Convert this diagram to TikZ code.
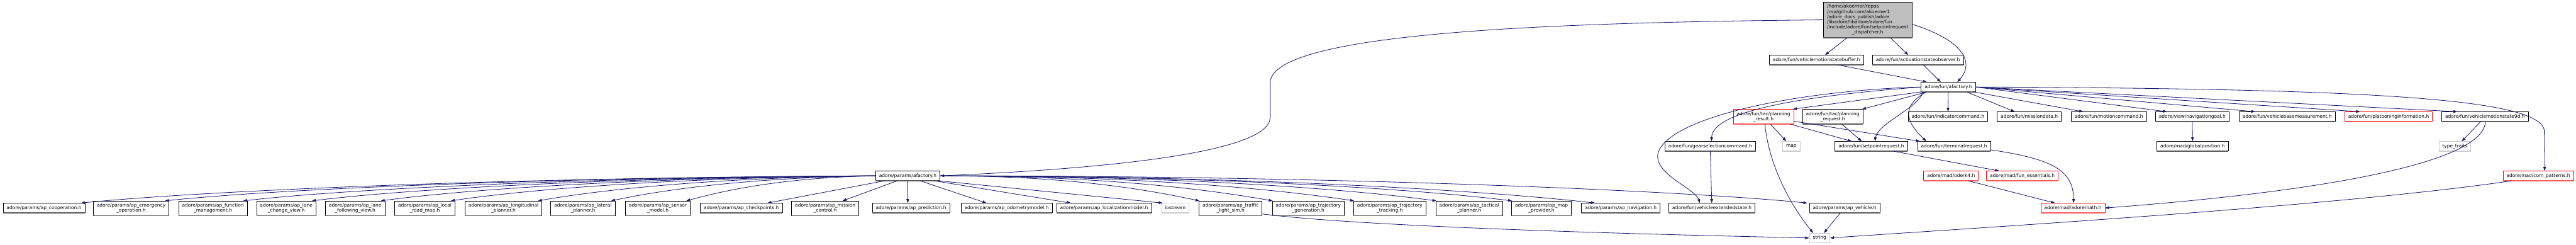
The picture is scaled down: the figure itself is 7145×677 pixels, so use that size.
\documentclass[tikz,border=0pt]{standalone}
\usepackage{fontspec}
\setmainfont{DejaVu Sans}
\usetikzlibrary{arrows.meta,calc}
\definecolor{edgec}{RGB}{25,25,112}
\definecolor{redb}{RGB}{255,0,0}

\begin{document}
\begin{tikzpicture}[x=0.25pt,y=-0.25pt,>={Triangle[length=2.75pt,width=1.9pt]},
  box/.style={draw=black,line width=.33pt,fill=white,inner xsep=2.4pt,inner ysep=0pt,align=center,anchor=west,
    font=\fontsize{3.25}{3.5}\selectfont,minimum height=6.5pt,
    append after command={(\tikzlastnode.south west) edge[line width=.7pt,draw=black!65] (\tikzlastnode.south east)}},
  redbox/.style={box,draw=redb,append after command={(\tikzlastnode.south west) edge[line width=.7pt,draw=redb!65] (\tikzlastnode.south east)}},
  sysbox/.style={box,draw=black!20,append after command={(\tikzlastnode.south west) edge[line width=.7pt,draw=black!20] (\tikzlastnode.south east)}},
  topbox/.style={box,fill=black!25},
  two/.style={minimum height=10pt},
  dep/.style={->,draw=edgec,line width=.36pt}]
\useasboundingbox (0,0) rectangle (7145,677);
% top and upper rows
\node[topbox,minimum width=61.25pt,minimum height=24.5pt] (top) at (5057,55) {\begin{tabular}{@{}l@{}}/home/akoerner/repos\\/csa/github.com/akoerner1\\/adore\_docs\_publish/adore\\/libadore/libadore/adore/fun\\/include/adore/fun/setpointrequest\\\multicolumn{1}{@{}c@{}}{\_dispatcher.h}\end{tabular}};
\node[box] (vmsbuf) at (4907,166) {adore/fun/vehiclemotionstatebuffer.h};
\node[box] (actobs) at (5193,166) {adore/fun/activationstateobserver.h};
\node[box] (hub) at (5328,241) {adore/fun/afactory.h};
% third row
\node[redbox,two] (presult) at (4807,323) {adore/fun/tac/planning\\\_result.h};
\node[box,two] (prequest) at (4999,323) {adore/fun/tac/planning\\\_request.h};
\node[box] (indic) at (5292,323) {adore/fun/indicatorcommand.h};
\node[box] (mission) at (5539,323) {adore/fun/missiondata.h};
\node[box] (motion) at (5744,323) {adore/fun/motioncommand.h};
\node[box] (navgoal) at (5978,323) {adore/view/navigationgoal.h};
\node[box] (vbase) at (6210,323) {adore/fun/vehiclebasemeasurement.h};
\node[redbox] (platoon) at (6503,323) {adore/fun/platooningInformation.h};
\node[box] (vms) at (6772,323) {adore/fun/vehiclemotionstate9d.h};
% fourth row
\node[box] (gear) at (4617,405) {adore/fun/gearselectioncommand.h};
\node[sysbox] (map) at (4944,405) {map};
\node[box] (setpreq) at (5089,405) {adore/fun/setpointrequest.h};
\node[box] (termreq) at (5318,405) {adore/fun/terminalrequest.h};
\node[box] (gpos) at (5982,405) {adore/mad/globalposition.h};
\node[sysbox] (ttraits) at (6764,405) {type\_traits};
% fifth row
\node[box] (pfac) at (2428,487) {adore/params/afactory.h};
\node[redbox] (oderk) at (5335,487) {adore/mad/oderk4.h};
\node[redbox] (funess) at (5509,487) {adore/mad/fun\_essentials.h};
\node[redbox] (compat) at (6942,487) {adore/mad/com\_patterns.h};
% sixth row
\node[redbox] (amath) at (5660,576) {adore/mad/adoremath.h};
\node[box] (coop) at (8,576) {adore/params/ap\_cooperation.h};
\node[box,two] (emerg) at (258,577) {adore/params/ap\_emergency\\\_operation.h};
\node[box,two] (funcm) at (495,577) {adore/params/ap\_function\\\_management.h};
\node[box,two] (lanech) at (711,577) {adore/params/ap\_lane\\\_change\_view.h};
\node[box,two] (lanef) at (902,577) {adore/params/ap\_lane\\\_following\_view.h};
\node[box,two] (locrm) at (1094,577) {adore/params/ap\_local\\\_road\_map.h};
\node[box,two] (longp) at (1289,577) {adore/params/ap\_longitudinal\\\_planner.h};
\node[box,two] (latp) at (1527,577) {adore/params/ap\_lateral\\\_planner.h};
\node[box,two] (sensm) at (1734,577) {adore/params/ap\_sensor\\\_model.h};
\node[box] (chkp) at (1942,576) {adore/params/ap\_checkpoints.h};
\node[box,two] (missc) at (2195,577) {adore/params/ap\_mission\\\_control.h};
\node[box] (pred) at (2419,576) {adore/params/ap\_prediction.h};
\node[box] (odom) at (2665,576) {adore/params/ap\_odometrymodel.h};
\node[box] (aploc) at (2930,576) {adore/params/ap\_localizationmodel.h};
\node[sysbox] (iostr) at (3221,576) {iostream};
\node[box,two] (aptls) at (3325,577) {adore/params/ap\_traffic\\\_light\_sim.h};
\node[box,two] (aptrg) at (3528,577) {adore/params/ap\_trajectory\\\_generation.h};
\node[box,two] (aptrt) at (3754,577) {adore/params/ap\_trajectory\\\_tracking.h};
\node[box,two] (aptac) at (3982,577) {adore/params/ap\_tactical\\\_planner.h};
\node[box,two] (apmap) at (4192,577) {adore/params/ap\_map\\\_provider.h};
\node[box] (apnav) at (4386,576) {adore/params/ap\_navigation.h};
\node[box] (vext) at (4628,576) {adore/fun/vehicleextendedstate.h};
\node[box] (apveh) at (5018,576) {adore/params/ap\_vehicle.h};
% last row
\node[sysbox] (str) at (5018,659) {string};
% edges from the file itself
\draw[dep] (top.west) .. controls (4300,62) and (3523,90) .. (3523,230) -- (3523,325) .. controls (3523,430) and (3000,470) .. (pfac.east);
\draw[dep] ($(top.south west)+(66,0)$) -- ($(vmsbuf.north)+(24,0)$);
\draw[dep] ($(top.south east)+(-60,0)$) -- ($(actobs.north)+(-27,0)$);
\draw[dep] ($(top.east)+(0,12)$) .. controls (5440,110) and (5480,170) .. ($(hub.north)+(25,0)$);
\draw[dep] ($(vmsbuf.south)+(59,0)$) -- ($(hub.north west)+(17,0)$);
\draw[dep] ($(actobs.south)+(15,0)$) -- ($(hub.north west)+(55,0)$);
% edges from adore/fun/afactory.h
\draw[dep] (hub.south west) -- ($(presult.north east)+(-3,0)$);
\draw[dep] ($(hub.south west)+(17,0)$) -- ($(prequest.north east)+(-3,0)$);
\draw[dep] (hub) -- (indic);
\draw[dep] ($(hub.south east)+(-25,0)$) -- ($(mission.north west)+(49,0)$);
\draw[dep] ($(hub.south east)+(-5,0)$) -- ($(motion.north west)+(34,0)$);
\draw[dep] (hub.east) -- ($(navgoal.north west)+(32,0)$);
\draw[dep] (hub.east) -- ($(vbase.north west)+(45,0)$);
\draw[dep] (hub.east) -- ($(platoon.north west)+(43,0)$);
\draw[dep] (hub.east) -- ($(vms.north west)+(44,0)$);
\draw[dep] (hub.east) .. controls (6600,245) and (7040,275) .. (7057,360) -- ($(compat.north west)+(116,0)$);
\draw[dep] (hub.west) .. controls (5050,262) and (4750,300) .. ($(gear.north west)+(130,0)$);
\draw[dep] (hub.west) .. controls (5000,250) and (4640,320) .. (4600,420) .. controls (4580,480) and (4700,520) .. ($(vext.north west)+(87,0)$);
\draw[dep] ($(hub.south west)+(6,0)$) .. controls (5320,300) and (5210,340) .. ($(setpreq.north west)+(111,0)$);
\draw[dep] ($(hub.south west)+(15,0)$) .. controls (5260,300) and (5300,350) .. ($(termreq.north west)+(25,0)$);
% further includes
\draw[dep] ($(presult.south)+(19,0)$) -- ($(map.north)+(-14,0)$);
\draw[dep] ($(presult.south east)+(-10,0)$) -- ($(setpreq.north west)+(47,0)$);
\draw[dep] ($(presult.south east)+(0,-8)$) -- ($(termreq.north west)+(7,0)$);
\draw[dep] ($(presult.south)+(4,0)$) .. controls (4905,450) and (4960,560) .. ($(str.north west)+(11,0)$);
\draw[dep] ($(prequest.south)+(25,0)$) -- ($(setpreq.north west)+(75,0)$);
\draw[dep] (navgoal) -- (gpos);
\draw[dep] ($(vms.south)+(-12,0)$) -- ($(ttraits.north)+(19,0)$);
\draw[dep] ($(vms.south)+(1,0)$) .. controls (6890,450) and (6450,530) .. (amath.east);
\draw[dep] ($(termreq.east)+(0,10)$) .. controls (5690,440) and (5751,470) .. ($(amath.north)+(2,0)$);
\draw[dep] ($(oderk.south east)+(-29,0)$) -- ($(amath.north west)+(40,0)$);
\draw[dep] ($(setpreq.south east)+(-40,0)$) -- ($(funess.north west)+(36,0)$);
\draw[dep] (gear) -- (vext);
\draw[dep] ($(compat.south west)+(25,0)$) .. controls (6500,570) and (5500,630) .. (str.east);
\draw[dep] ($(aptls.south east)+(0,-5)$) .. controls (3800,630) and (4600,650) .. (str.west);
\draw[dep] ($(apveh.south)+(-12,0)$) -- ($(str.north)+(12,0)$);
% edges from adore/params/afactory.h
\foreach \t/\a/\b in {coop/1105/300,emerg/976/280,funcm/867/260,lanech/772/240,lanef/676/220,
  locrm/578/200,longp/459/170,latp/355/140,sensm/255/110}
  \draw[dep] (pfac.west) .. controls +(-\a,5) and +(\b,-30) .. ($(\t.north east)+(-12,0)$);
\draw[dep] ($(pfac.south west)+(26,0)$) -- ($(chkp.north east)+(-42,0)$);
\draw[dep] ($(pfac.south west)+(61,0)$) -- ($(missc.north east)+(-46,0)$);
\draw[dep] (pfac.south) -- (pfac.south |- pred.north);
\draw[dep] ($(pfac.south)+(34,0)$) -- ($(odom.north west)+(71,0)$);
\draw[dep] ($(pfac.south east)+(-17,0)$) -- ($(aploc.north west)+(40,0)$);
\draw[dep] ($(pfac.south east)+(-5,0)$) -- ($(iostr.north west)+(4,0)$);
\foreach \t/\a/\b in {aptls/360/140,aptrg/460/170,aptrt/574/200,aptac/687/220,apmap/792/240}
  \draw[dep] (pfac.east) .. controls +(\a,0) and +(-\b,-30) .. ($(\t.north west)+(2,0)$);
\draw[dep] (pfac.east) .. controls +(907,0) and +(-260,-30) .. ($(apnav.north west)+(38,0)$);
\draw[dep] (pfac.east) .. controls +(1200,0) and +(-300,-30) .. ($(apveh.north west)+(-5,0)$);
\end{tikzpicture}
\end{document}
